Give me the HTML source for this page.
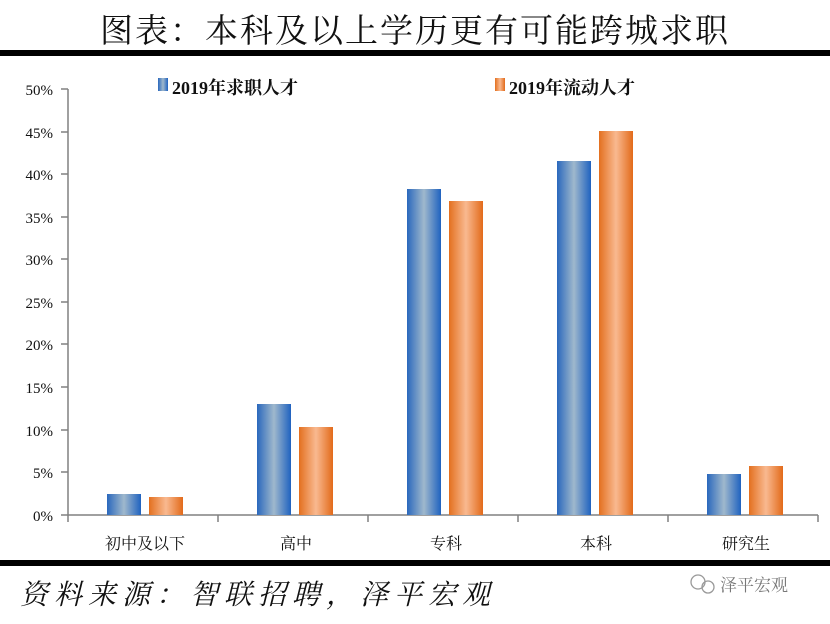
<!DOCTYPE html>
<html><head><meta charset="utf-8"><style>
body{margin:0;background:#fff;}
svg text{font-family:"Liberation Serif","Noto Serif CJK SC",serif;}
</style></head><body>
<svg width="830" height="619" viewBox="0 0 830 619" xmlns="http://www.w3.org/2000/svg">
<defs>
<linearGradient id="b" x1="0" x2="1" y1="0" y2="0">
<stop offset="0" stop-color="#2a68bd"/><stop offset="0.5" stop-color="#9fb8cc"/><stop offset="1" stop-color="#1f62c0"/></linearGradient>
<linearGradient id="o" x1="0" x2="1" y1="0" y2="0">
<stop offset="0" stop-color="#e3701f"/><stop offset="0.5" stop-color="#f9b990"/><stop offset="1" stop-color="#e26a1a"/></linearGradient>
</defs>
<text x="415" y="42" text-anchor="middle" font-size="33" fill="#111" letter-spacing="2">图表：本科及以上学历更有可能跨城求职</text>
<rect x="0" y="50" width="830" height="6" fill="#000"/>
<g font-size="15" fill="#111" text-anchor="end">
<text x="53" y="95">50%</text><text x="53" y="138">45%</text><text x="53" y="180">40%</text><text x="53" y="223">35%</text><text x="53" y="265">30%</text><text x="53" y="308">25%</text><text x="53" y="350">20%</text><text x="53" y="393">15%</text><text x="53" y="436">10%</text><text x="53" y="478">5%</text><text x="53" y="521">0%</text>
</g>
<g stroke="#808080" stroke-width="1.5" fill="none">
<path d="M68 89V515M61 89H68M61 132H68M61 174H68M61 217H68M61 259H68M61 302H68M61 344H68M61 387H68M61 430H68M61 472H68M61 515H818"/>
<path d="M68 515V522M218 515V522M368 515V522M518 515V522M668 515V522M818 515V522"/>
</g>
<rect x="107" y="494" width="34" height="21" fill="url(#b)"/>
<rect x="149" y="497" width="34" height="18" fill="url(#o)"/>
<rect x="257" y="404" width="34" height="111" fill="url(#b)"/>
<rect x="299" y="427" width="34" height="88" fill="url(#o)"/>
<rect x="407" y="189" width="34" height="326" fill="url(#b)"/>
<rect x="449" y="201" width="34" height="314" fill="url(#o)"/>
<rect x="557" y="161" width="34" height="354" fill="url(#b)"/>
<rect x="599" y="131" width="34" height="384" fill="url(#o)"/>
<rect x="707" y="474" width="34" height="41" fill="url(#b)"/>
<rect x="749" y="466" width="34" height="49" fill="url(#o)"/>
<rect x="158" y="78" width="10" height="13" fill="url(#b)"/>
<text x="172" y="94" font-size="18" font-weight="bold" fill="#111">2019年求职人才</text>
<rect x="495" y="78" width="10" height="13" fill="url(#o)"/>
<text x="509" y="94" font-size="18" font-weight="bold" fill="#111">2019年流动人才</text>
<g font-size="16" fill="#111" text-anchor="middle">
<text x="145" y="549">初中及以下</text><text x="296" y="549">高中</text><text x="446" y="549">专科</text><text x="596" y="549">本科</text><text x="746" y="549">研究生</text>
</g>
<rect x="0" y="560" width="830" height="6" fill="#000"/>
<text x="20" y="604" font-size="28" font-style="italic" fill="#111" letter-spacing="6">资料来源：智联招聘，泽平宏观</text>
<g stroke="#999" fill="none" stroke-width="1.3"><circle cx="698" cy="582" r="7"/><circle cx="708" cy="587" r="6"/></g>
<text x="720" y="591" font-size="17" fill="#777" font-family="Liberation Sans,Noto Sans CJK SC,sans-serif">泽平宏观</text>
</svg>
</body></html>
